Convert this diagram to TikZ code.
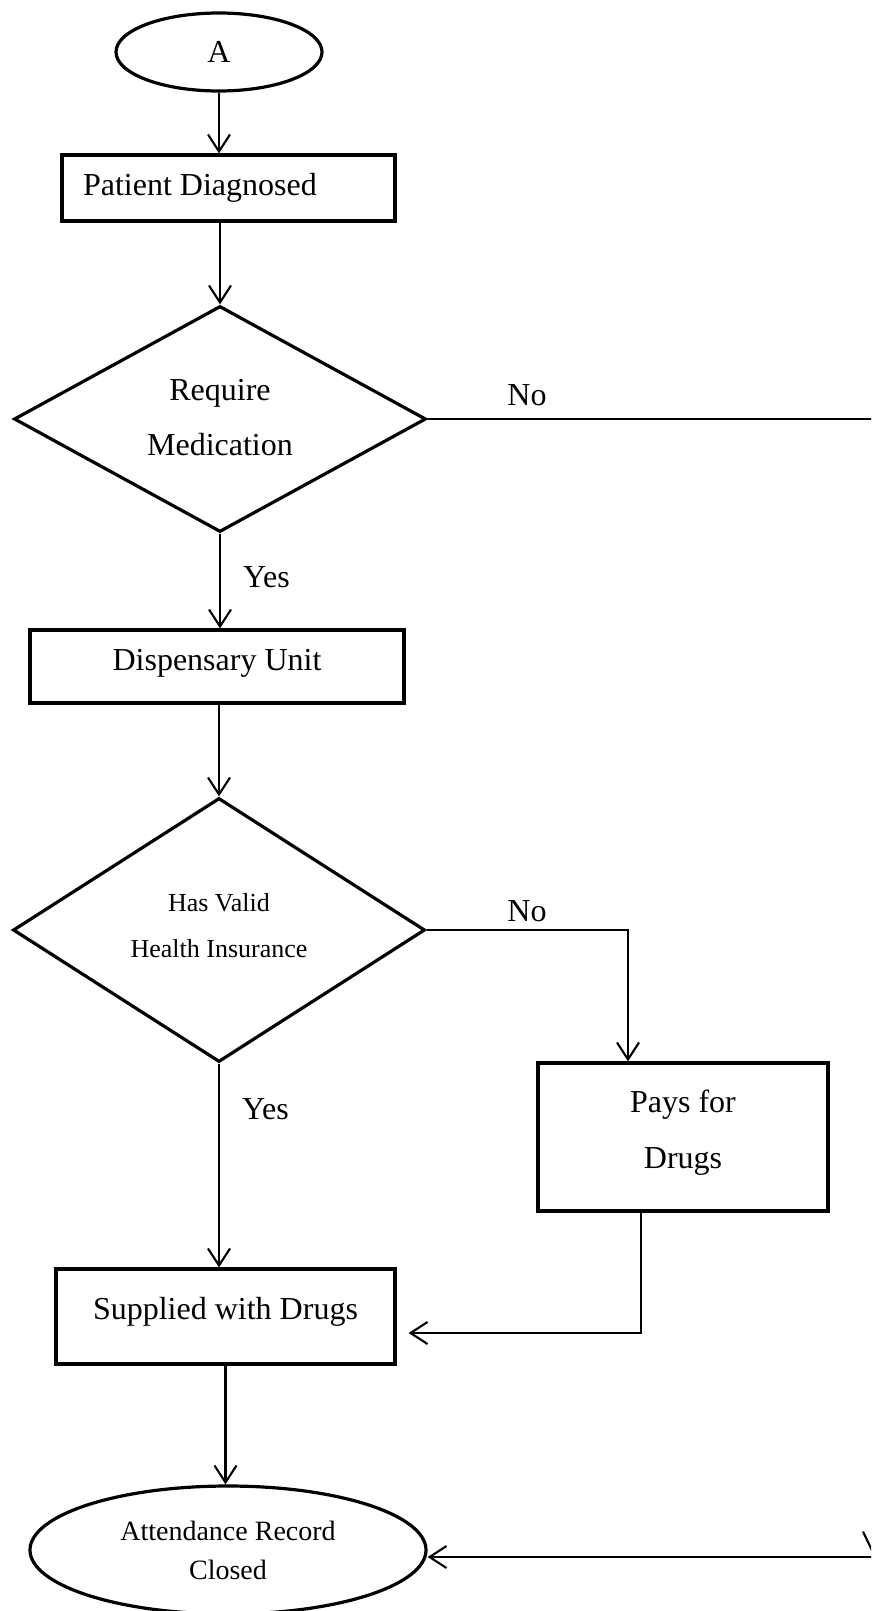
\documentclass[tikz,border=0pt]{standalone}
\usepackage{fontspec}
\setmainfont{Liberation Serif}
\usetikzlibrary{shapes.geometric,arrows.meta}
\begin{document}
\begin{tikzpicture}[x=1pt,y=-1pt,
  every node/.style={inner sep=0pt},
  txt/.style={font=\fontsize{32}{55}\selectfont},
  stepbox/.style={draw, line width=3.2pt, rectangle, txt},
  decision/.style={draw, line width=3.2pt, diamond, aspect=1.8, txt, align=center},
  terminal/.style={draw, line width=3.2pt, ellipse, txt, align=center},
  conn/.style={line width=2.1pt, -{Straight Barb[length=17pt,width=22pt]}},
  lbl/.style={txt, anchor=base},
]
\useasboundingbox (0,0) rectangle (871,1611);
\clip (0,0) rectangle (871,1611);

% start
\node[terminal, minimum width=206pt, minimum height=78pt] (a) at (219,52) {A};

% steps and decisions
\node[stepbox, minimum width=333pt, minimum height=66pt, text width=291pt, align=flush left,
      text height=24pt, text depth=10pt] (pd) at (228.5,188) {Patient Diagnosed};
\node[decision, minimum width=412pt, minimum height=226pt] (d1) at (220,419)
      {Require\\Medication\rule[-4pt]{0pt}{4pt}};
\node[stepbox, minimum width=374pt, minimum height=73pt,
      text height=24pt, text depth=17pt] (du) at (217,666.5) {Dispensary Unit};
\node[decision, minimum width=412pt, minimum height=264pt,
      font=\fontsize{26}{46}\selectfont] (d2) at (219,930)
      {Has Valid\\Health Insurance\rule[-10pt]{0pt}{10pt}};
\node[stepbox, minimum width=290pt, minimum height=148pt, align=center,
      font=\fontsize{32}{56}\selectfont] (pays) at (683,1137)
      {Pays for\\Drugs\rule[-15pt]{0pt}{15pt}};
\node[stepbox, minimum width=339pt, minimum height=95pt,
      text height=24pt, text depth=19pt] (sup) at (225.5,1316.5) {Supplied with Drugs};
\node[terminal, minimum width=396pt, minimum height=128pt,
      font=\fontsize{28}{39}\selectfont] (closed) at (228,1550)
      {Attendance Record\\Closed};

% branch labels
\node[lbl] (no1) at (527,405) {No};
\node[lbl, anchor=base west] (yes1) at (243,587) {Yes};
\node[lbl] (no2) at (527,921) {No};
\node[lbl, anchor=base west] (yes2) at (242,1119) {Yes};

% bend points
\coordinate (ne) at (874,418);
\coordinate (se) at (874,1557);
\coordinate (pn) at (628,1062);
\coordinate (pb) at (641,1333);

% main flow
\draw[conn] (a.south) -- (a.south |- pd.north);
\draw[conn] (d1.north |- pd.south) -- (d1.north);
\draw[conn] (d1.south) -- (d1.south |- du.north);
\draw[conn] (d2.north |- du.south) -- (d2.north);
\draw[conn] (d2.south) -- (d2.south |- sup.north);
\draw[conn] (sup.south) -- (sup.south |- closed.north);

% no-insurance branch
\draw[conn] (d2.east) -- (d2.east -| pn) -- (pays.north -| pn);
\draw[conn, shorten >=12pt] (pays.south -| pb) -- (pb) -- (pb -| sup.east);

% no-medication branch
\draw[line width=2.1pt, -{Straight Barb[length=23pt,width=22pt]}]
  (d1.east) -- (d1.east -| ne) -- (se);
\draw[conn] (se) -- (se -| closed.east);
\end{tikzpicture}
\end{document}
